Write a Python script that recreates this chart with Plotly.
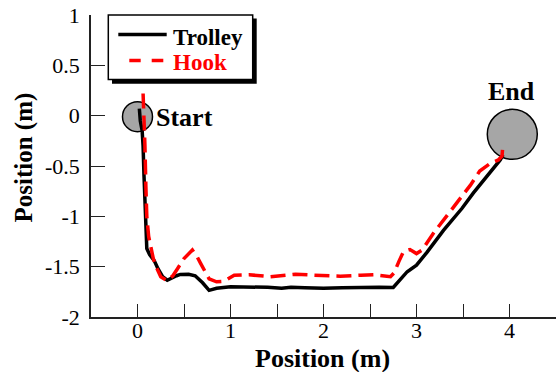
import plotly.graph_objects as go

# ---- data ----
trolley_x = [0.02, 0.03, 0.05, 0.06, 0.07, 0.08, 0.09, 0.10, 0.13, 0.18, 0.22, 0.27, 0.32, 0.37,
             0.42, 0.46, 0.55, 0.62, 0.70, 0.77, 0.85, 1.00, 1.20, 1.40, 1.55, 1.65, 1.80, 2.00,
             2.20, 2.40, 2.60, 2.75, 2.84, 2.90, 3.00, 3.11, 3.29, 3.49, 3.61, 3.72, 3.76, 3.90, 3.93]
trolley_y = [0.07, -0.05, -0.15, -0.30, -0.60, -0.90, -1.20, -1.32, -1.38, -1.44, -1.52, -1.60,
             -1.635, -1.61, -1.59, -1.577, -1.575, -1.59, -1.66, -1.735, -1.715, -1.70, -1.70,
             -1.705, -1.715, -1.705, -1.71, -1.715, -1.71, -1.705, -1.705, -1.707, -1.62, -1.55,
             -1.485, -1.36, -1.14, -0.92, -0.77, -0.64, -0.60, -0.44, -0.39]

hook_x = [0.06, 0.07, 0.08, 0.09, 0.10, 0.12, 0.14, 0.17, 0.20, 0.25, 0.32, 0.38, 0.43, 0.50,
          0.59, 0.64, 0.68, 0.73, 0.77, 0.85, 0.93, 1.04, 1.20, 1.43, 1.70, 1.90, 2.18, 2.40,
          2.54, 2.72, 2.76, 2.81, 2.86, 2.93, 3.00, 3.06, 3.18, 3.33, 3.45, 3.58, 3.68, 3.80,
          3.88, 3.92, 3.93]
hook_y = [0.22, 0.00, -0.30, -0.70, -1.00, -1.20, -1.30, -1.42, -1.50, -1.60, -1.64, -1.59,
          -1.52, -1.42, -1.335, -1.40, -1.47, -1.56, -1.62, -1.65, -1.645, -1.585, -1.58, -1.60,
          -1.575, -1.585, -1.595, -1.585, -1.58, -1.60, -1.56, -1.45, -1.35, -1.33, -1.37,
          -1.335, -1.17, -0.99, -0.84, -0.69, -0.55, -0.47, -0.44, -0.40, -0.28]

series_names = ["Trolley", "Hook"]
series_colors = ["black", "red"]

start_pt = (0.0, -0.01)
end_pt = (4.03, -0.185)

x_ticks = [-0.5, 0, 0.5, 1, 1.5, 2, 2.5, 3, 3.5, 4, 4.5]
x_ticklabels = ["", "0", "", "1", "", "2", "", "3", "", "4", ""]
y_ticks = [1, 0.5, 0, -0.5, -1, -1.5, -2]
y_ticklabels = ["1", "0.5", "0", "-0.5", "-1", "-1.5", "-2"]

SERIF = "Liberation Serif, Times New Roman, Times, serif"

W, H = 556, 372
ML, MR, MT, MB = 91, 0, 15, 55
PW, PH = W - ML - MR, H - MT - MB


def px(xpix):
    return (xpix - ML) / PW


def py(ypix):
    return (H - MB - ypix) / PH


fig = go.Figure()

# start / end circles
fig.add_trace(go.Scatter(x=[start_pt[0]], y=[start_pt[1]], mode="markers", showlegend=False,
                         marker=dict(size=30, color="#a6a6a6", line=dict(color="black", width=1.5))))
fig.add_trace(go.Scatter(x=[end_pt[0]], y=[end_pt[1]], mode="markers", showlegend=False,
                         marker=dict(size=50, color="#a6a6a6", line=dict(color="black", width=1.5))))

fig.add_trace(go.Scatter(x=trolley_x, y=trolley_y, mode="lines", name=series_names[0], showlegend=False,
                         line=dict(color=series_colors[0], width=3.5)))
fig.add_trace(go.Scatter(x=hook_x, y=hook_y, mode="lines", name=series_names[1], showlegend=False,
                         line=dict(color=series_colors[1], width=3.5, dash="15px,7px")))

fig.add_annotation(x=0.178, y=-0.016, text="Start", showarrow=False, xanchor="left", yanchor="middle",
                   font=dict(family=SERIF, size=26, color="black", weight="bold"))
fig.add_annotation(x=4.02, y=0.245, text="End", showarrow=False, xanchor="center", yanchor="middle",
                   font=dict(family=SERIF, size=26, color="black", weight="bold"))

# axis titles
fig.add_annotation(xref="paper", yref="paper", x=px(23), y=py(157.5), text="Position (m)", textangle=-90,
                   showarrow=False, xanchor="center", yanchor="middle",
                   font=dict(family=SERIF, size=25, color="black", weight="bold"))
fig.add_annotation(xref="paper", yref="paper", x=px(322), y=py(358.5), text="Position (m)",
                   showarrow=False, xanchor="center", yanchor="middle",
                   font=dict(family=SERIF, size=26, color="black", weight="bold"))

# ---- legend (box with drop shadow) ----
fig.add_shape(type="rect", xref="paper", yref="paper", x0=px(112), x1=px(256.7), y0=py(83.8), y1=py(18.5),
              fillcolor="black", line=dict(width=0), layer="above")
fig.add_shape(type="rect", xref="paper", yref="paper", x0=px(108.3), x1=px(252.7), y0=py(79.5), y1=py(15),
              fillcolor="white", line=dict(color="black", width=1.5), layer="above")
fig.add_shape(type="line", xref="paper", yref="paper", x0=px(118.3), x1=px(166.7), y0=py(34.5), y1=py(34.5),
              line=dict(color=series_colors[0], width=3.5), layer="above")
for a, b in [(129.3, 140.7), (151.7, 163.3)]:
    fig.add_shape(type="line", xref="paper", yref="paper", x0=px(a), x1=px(b), y0=py(60.5), y1=py(60.5),
                  line=dict(color=series_colors[1], width=3.5), layer="above")
fig.add_annotation(xref="paper", yref="paper", x=px(170.5), y=py(37.5), text=series_names[0],
                   showarrow=False, xanchor="left", yanchor="middle",
                   font=dict(family=SERIF, size=23, color=series_colors[0], weight="bold"))
fig.add_annotation(xref="paper", yref="paper", x=px(170.5), y=py(62.5), text=series_names[1],
                   showarrow=False, xanchor="left", yanchor="middle",
                   font=dict(family=SERIF, size=23, color=series_colors[1], weight="bold"))

fig.update_layout(
    width=W, height=H,
    margin=dict(l=ML, r=MR, t=MT, b=MB),
    paper_bgcolor="white", plot_bgcolor="white",
    font=dict(family=SERIF, color="black"),
    showlegend=False,
)
fig.update_xaxes(range=[-0.5, 4.5], showgrid=False, zeroline=False,
                 showline=True, linecolor="#222", linewidth=1.5,
                 ticks="inside", ticklen=13, tickwidth=1.2, tickcolor="#222",
                 tickmode="array", tickvals=x_ticks, ticktext=x_ticklabels,
                 tickfont=dict(family=SERIF, size=22, color="black"), ticklabelstandoff=-7)
fig.update_yaxes(range=[-2, 1], showgrid=False, zeroline=False,
                 showline=True, linecolor="#222", linewidth=1.5,
                 ticks="inside", ticklen=14, tickwidth=1.2, tickcolor="#222",
                 tickmode="array", tickvals=y_ticks, ticktext=y_ticklabels,
                 tickfont=dict(family=SERIF, size=22, color="black"), ticklabelstandoff=5)

fig.write_html("out.html")
